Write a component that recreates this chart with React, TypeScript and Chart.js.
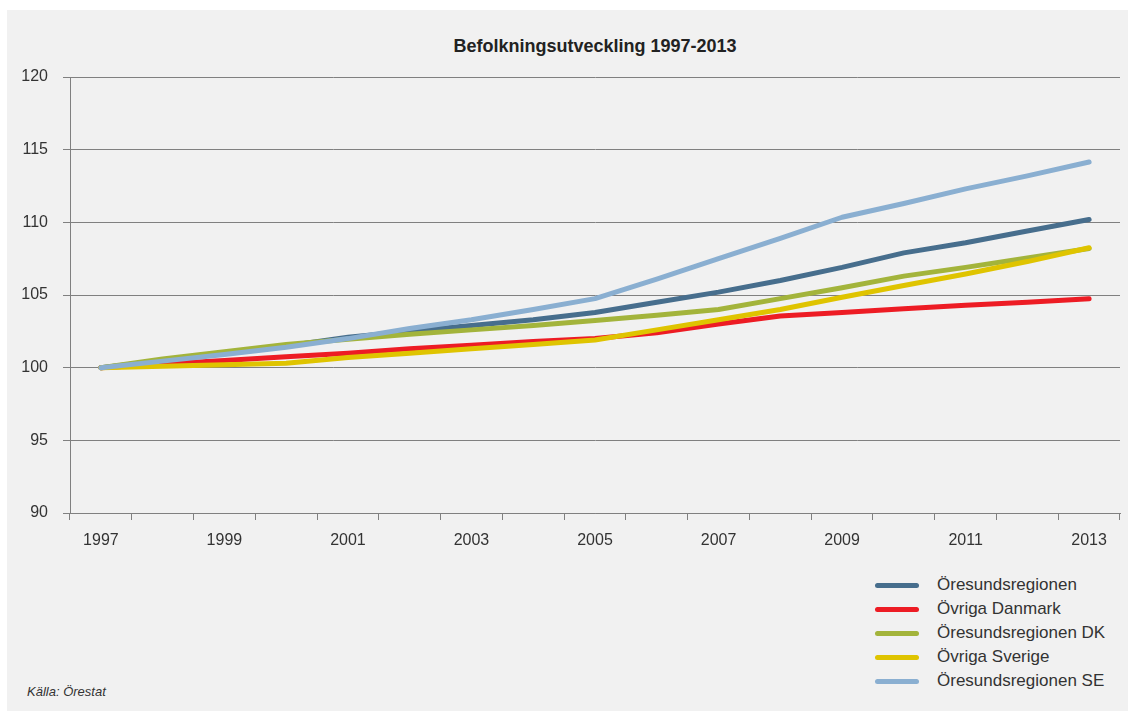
import React, { useEffect, useRef } from "react";
import Chart from "chart.js/auto";

const years = ["1997","1998","1999","2000","2001","2002","2003","2004","2005","2006","2007","2008","2009","2010","2011","2012","2013"];
const xTickLabels = ["1997","1999","2001","2003","2005","2007","2009","2011","2013"];
const yTicks = [90, 95, 100, 105, 110, 115, 120];

const oresundsregionen = [100, 100.5, 101.0, 101.5, 102.1, 102.5, 102.9, 103.3, 103.8, 104.5, 105.2, 106.0, 106.9, 107.9, 108.6, 109.4, 110.2];
const ovrigaDanmark = [100, 100.25, 100.5, 100.75, 101.0, 101.3, 101.55, 101.8, 102.0, 102.4, 103.0, 103.55, 103.8, 104.05, 104.3, 104.5, 104.75];
const oresundsregionenDK = [100, 100.6, 101.1, 101.6, 101.95, 102.3, 102.6, 102.9, 103.25, 103.6, 104.0, 104.75, 105.5, 106.3, 106.9, 107.55, 108.2];
const ovrigaSverige = [100, 100.1, 100.2, 100.3, 100.7, 101.0, 101.3, 101.6, 101.9, 102.6, 103.3, 104.0, 104.85, 105.65, 106.45, 107.3, 108.25];
const oresundsregionenSE = [100, 100.45, 100.9, 101.4, 102.0, 102.7, 103.3, 104.0, 104.75, 106.1, 107.5, 108.9, 110.35, 111.3, 112.3, 113.2, 114.15];

const seriesNames = ["Öresundsregionen", "Övriga Danmark", "Öresundsregionen DK", "Övriga Sverige", "Öresundsregionen SE"];
const seriesData = [oresundsregionen, ovrigaDanmark, oresundsregionenDK, ovrigaSverige, oresundsregionenSE];
const seriesColors = ["#476e8d", "#ed1c24", "#a3b43b", "#dfc400", "#8aafd1"];

const title = "Befolkningsutveckling 1997-2013";
const source = "Källa: Örestat";

const FONT = "'Liberation Sans', Arial, Helvetica, sans-serif";

export default function App() {
  const canvasRef = useRef<HTMLCanvasElement | null>(null);

  useEffect(() => {
    const canvas = canvasRef.current;
    if (!canvas) return;
    const chart = new Chart(canvas, {
      type: "line",
      data: {
        labels: years,
        datasets: seriesNames.map((name, i) => ({
          label: name,
          data: seriesData[i],
          borderColor: seriesColors[i],
          backgroundColor: seriesColors[i],
          borderWidth: 5,
          borderCapStyle: "round" as const,
          borderJoinStyle: "round" as const,
          pointRadius: 0,
          pointHoverRadius: 0,
          tension: 0,
          fill: false,
          order: seriesNames.length - i,
        })),
      },
      options: {
        animation: false,
        responsive: false,
        devicePixelRatio: 1,
        events: [],
        layout: { padding: { top: 67, right: 8, left: 0, bottom: 0 } },
        plugins: {
          legend: { display: false },
          title: { display: false },
          tooltip: { enabled: false },
        },
        scales: {
          x: {
            type: "category",
            offset: true,
            afterFit: (scale: any) => { scale.height = 57; },
            grid: {
              offset: true,
              drawOnChartArea: false,
              drawTicks: true,
              tickLength: 7,
              color: "#808080",
              lineWidth: 1,
            },
            border: { display: true, color: "#808080", width: 1 },
            ticks: {
              autoSkip: false,
              maxRotation: 0,
              padding: 11,
              color: "#333333",
              font: { family: FONT, size: 16 },
              callback: (_v: any, index: number) => (xTickLabels.includes(years[index]) ? years[index] : ""),
            },
          },
          y: {
            min: yTicks[0],
            max: yTicks[yTicks.length - 1],
            afterFit: (scale: any) => { scale.width = 63; },
            afterBuildTicks: (scale: any) => { scale.ticks = yTicks.map((v) => ({ value: v })); },
            grid: {
              color: "#808080",
              lineWidth: 1,
              tickLength: 7,
              drawTicks: true,
            },
            border: { display: true, color: "#808080", width: 1 },
            ticks: {
              padding: 15,
              color: "#333333",
              font: { family: FONT, size: 16 },
            },
          },
        },
      },
    });
    return () => chart.destroy();
  }, []);

  return (
    <div
      style={{
        position: "absolute",
        left: 7,
        top: 10,
        width: 1121,
        height: 701,
        background: "#f1f1f1",
        fontFamily: FONT,
        overflow: "hidden",
      }}
    >
      <div
        style={{
          position: "absolute",
          left: 63,
          width: 1050,
          top: 25,
          textAlign: "center",
          fontWeight: "bold",
          fontSize: 18,
          color: "#222222",
          lineHeight: "22px",
        }}
      >
        {title}
      </div>
      <canvas ref={canvasRef} width={1121} height={560} style={{ position: "absolute", left: 0, top: 0, width: 1121, height: 560 }} />
      <div style={{ position: "absolute", left: 868, top: 563 }}>
        {seriesNames.map((name, i) => (
          <div key={name} style={{ position: "relative", height: 24, display: "flex", alignItems: "center" }}>
            <div style={{ width: 44, height: 5, borderRadius: 3, background: seriesColors[i] }} />
            <div style={{ marginLeft: 18, fontSize: 17, color: "#333333", whiteSpace: "nowrap" }}>{name}</div>
          </div>
        ))}
      </div>
      <div style={{ position: "absolute", left: 20, top: 674, fontSize: 13, fontStyle: "italic", color: "#333333" }}>
        {source}
      </div>
    </div>
  );
}
